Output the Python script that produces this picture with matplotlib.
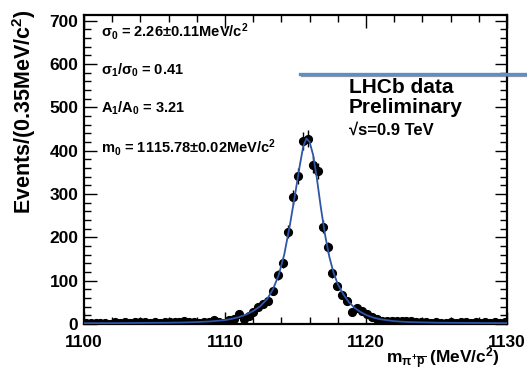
import numpy as np
import matplotlib
matplotlib.use("Agg")
import matplotlib.pyplot as plt
from matplotlib.lines import Line2D
from matplotlib.ticker import MultipleLocator

plt.rcParams['font.family'] = ['Liberation Sans', 'DejaVu Sans']
plt.rcParams['font.weight'] = 'bold'
plt.rcParams['mathtext.fontset'] = 'custom'
plt.rcParams['mathtext.rm'] = 'Liberation Sans:bold'
plt.rcParams['mathtext.it'] = 'Liberation Sans:bold'
plt.rcParams['mathtext.bf'] = 'Liberation Sans:bold'
plt.rcParams['mathtext.sf'] = 'Liberation Sans:bold'

# ---- data ----
bin_width = 0.35
first_center = 1100.12
counts_left = [3, 3, 2, 3, 2, 1, 4, 3, 4, 3, 4, 5, 4, 3, 5, 2, 4, 4, 5, 4,
               6, 5, 4, 3, 5, 4, 9, 5, 2]
counts_peak = [9, 11, 23, 11, 18, 28, 39, 47, 53, 77, 113, 141, 213, 292, 341,
               422, 428, 368, 353, 224, 177, 118, 88, 67, 53, 28, 38, 30, 24, 17,
               11, 8, 8, 7, 7]
counts_right = [6, 6, 7, 5, 4, 5, 3, 4, 3, 2, 4, 3, 4, 4, 3, 5, 3, 4, 3, 5, 3, 4]
counts = np.array(counts_left + counts_peak + counts_right, dtype=float)
centers = first_center + bin_width * np.arange(len(counts))

fit_x = [1100, 1102, 1104, 1106, 1107, 1108, 1109, 1110, 1110.5, 1111, 1111.5,
         1112, 1112.5, 1113, 1113.4, 1113.8, 1114.2, 1114.6, 1115.0, 1115.3,
         1115.55, 1115.78, 1116.0, 1116.25, 1116.5, 1116.8, 1117.1, 1117.4,
         1117.7, 1118.0, 1118.4, 1118.8, 1119.2, 1119.6, 1120.0, 1120.5, 1121,
         1122, 1123, 1125, 1127, 1130]
fit_y = [2, 2, 2.5, 3, 3.5, 4.5, 6, 9, 12, 16, 22, 30, 41, 58, 80, 112, 160, 228,
         305, 365, 410, 428, 420, 390, 340, 268, 205, 155, 118, 92, 68, 50, 37,
         28, 21, 15, 11, 6.5, 4.5, 3, 2.5, 2]

x_ticks = [1100, 1110, 1120, 1130]
y_ticks = [0, 100, 200, 300, 400, 500, 600, 700]

params = [r'$\sigma_0$ = 2.26$\pm$0.11MeV/c$^2$',
          r'$\sigma_1$/$\sigma_0$ = 0.41',
          r'A$_1$/A$_0$ = 3.21',
          r'm$_0$ = 1115.78$\pm$0.02MeV/c$^2$']

# ---- figure ----
W, H = 527, 375
fig = plt.figure(figsize=(W / 100, H / 100), dpi=100)
ax = fig.add_axes([84 / W, (H - 324) / H, (507 - 84) / W, (324 - 15) / H])

ax.errorbar(centers, counts, yerr=np.sqrt(counts), fmt='o', color='black',
            markersize=5.6, elinewidth=1.0, capsize=0, zorder=3)
ax.plot(fit_x, fit_y, color='#2f55a8', lw=1.3, zorder=4)

ax.set_xlim(1100, 1130)
ax.set_ylim(0, 713)
ax.set_xticks(x_ticks)
ax.set_yticks(y_ticks)
ax.xaxis.set_minor_locator(MultipleLocator(2))
ax.yaxis.set_minor_locator(MultipleLocator(20))
ax.tick_params(which='both', direction='in', top=True, right=True, width=1.0)
ax.tick_params(which='major', length=9)
ax.tick_params(which='minor', length=5)
ax.tick_params(axis='both', labelsize=12.5, pad=4)
ax.tick_params(axis='x', pad=8)
for lbl in ax.get_xticklabels() + ax.get_yticklabels():
    lbl.set_fontweight('bold')
for s in ax.spines.values():
    s.set_linewidth(1.6)

fig.text(24 / W, 1 - 112 / H, r'Events/(0.35MeV/c$^2$)', rotation=90,
         ha='center', va='center', fontsize=15.5, fontweight='bold')
fig.text(500 / W, 1 - 364 / H, r'm$_{\pi^{+}\overline{p}}$ (MeV/c$^2$)',
         ha='right', va='baseline', fontsize=12.5, fontweight='bold')

ys = [37, 75, 113, 153]
for t, yb in zip(params, ys):
    fig.text(101 / W, 1 - yb / H, t, ha='left', va='baseline', fontsize=10.5,
             fontweight='bold')

fig.text(349 / W, 1 - 93 / H, 'LHCb data', ha='left', va='baseline',
         fontsize=15, fontweight='bold')
fig.text(349 / W, 1 - 113 / H, 'Preliminary', ha='left', va='baseline',
         fontsize=15, fontweight='bold')
fig.text(349 / W, 1 - 135 / H, '√s=0.9 TeV', ha='left', va='baseline',
         fontsize=12, fontweight='bold')

# decorative blue line with shadow
fig.add_artist(Line2D([302 / W, 1.0], [1 - 75.8 / H, 1 - 75.8 / H],
                      transform=fig.transFigure, color='#555555', lw=1.6,
                      alpha=0.6, zorder=9))
fig.add_artist(Line2D([300 / W, 1.0], [1 - 74.0 / H, 1 - 74.0 / H],
                      transform=fig.transFigure, color='#5b8fca', lw=2.4,
                      zorder=10))

fig.savefig('out.png', dpi=100)
